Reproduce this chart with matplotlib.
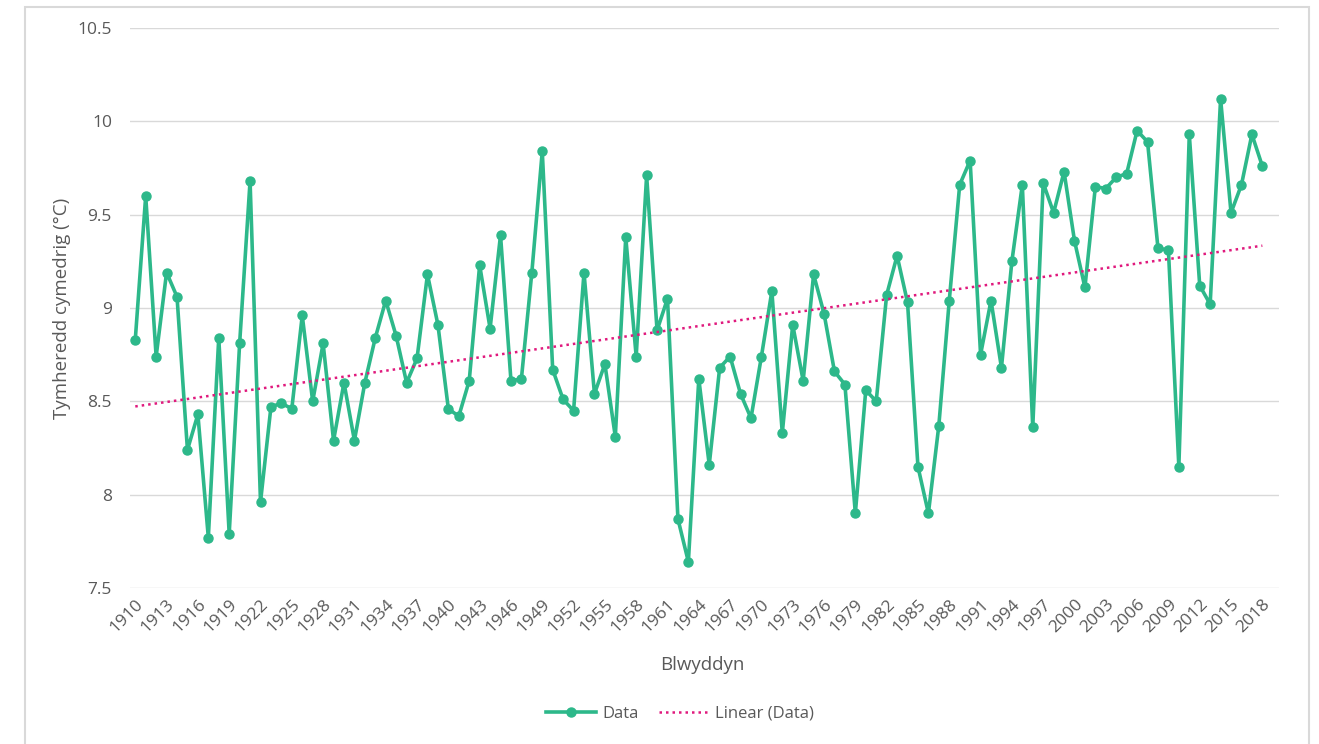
import numpy as np
import matplotlib
matplotlib.use('Agg')
import matplotlib.pyplot as plt
from matplotlib.patches import Rectangle

# Datos: temperatura media anual
years = list(range(1910, 2019))
temps = [
    8.83, 9.60, 8.74, 9.19, 9.06, 8.24, 8.43, 7.77, 8.84, 7.79,  # 1910-1919
    8.81, 9.68, 7.96, 8.47, 8.49, 8.46, 8.96, 8.50, 8.81, 8.29,  # 1920-1929
    8.60, 8.29, 8.60, 8.84, 9.04, 8.85, 8.60, 8.73, 9.18, 8.91,  # 1930-1939
    8.46, 8.42, 8.61, 9.23, 8.89, 9.39, 8.61, 8.62, 9.19, 9.84,  # 1940-1949
    8.67, 8.51, 8.45, 9.19, 8.54, 8.70, 8.31, 9.38, 8.74, 9.71,  # 1950-1959
    8.88, 9.05, 7.87, 7.64, 8.62, 8.16, 8.68, 8.74, 8.54, 8.41,  # 1960-1969
    8.74, 9.09, 8.33, 8.91, 8.61, 9.18, 8.97, 8.66, 8.59, 7.90,  # 1970-1979
    8.56, 8.50, 9.07, 9.28, 9.03, 8.15, 7.90, 8.37, 9.04, 9.66,  # 1980-1989
    9.79, 8.75, 9.04, 8.68, 9.25, 9.66, 8.36, 9.67, 9.51, 9.73,  # 1990-1999
    9.36, 9.11, 9.65, 9.64, 9.70, 9.72, 9.95, 9.89, 9.32, 9.31,  # 2000-2009
    8.15, 9.93, 9.12, 9.02, 10.12, 9.51, 9.66, 9.93, 9.76,       # 2010-2018
]
tick_years = list(range(1910, 2019, 3))
y_ticks = [7.5, 8, 8.5, 9, 9.5, 10, 10.5]
y_tick_labels = ['7.5', '8', '8.5', '9', '9.5', '10', '10.5']

green = '#2db88a'
pink = '#e0197d'
text_gray = '#595959'

plt.rcParams['font.family'] = ['Open Sans', 'DejaVu Sans']

fig = plt.figure(figsize=(13.19, 7.44), dpi=100)
ax = fig.add_axes([0.0986, 0.2097, 0.8711, 0.7527])

# Marco del gráfico
fig.patches.append(Rectangle((25 / 1319, -0.01), 1284 / 1319, 1 - 7 / 744 + 0.01,
                             transform=fig.transFigure, fill=False,
                             edgecolor='#d9d9d9', linewidth=1.5))

ax.plot(years, temps, color=green, linewidth=2.6, marker='o', markersize=6.5,
        label='Data', zorder=3)

# Línea de tendencia
coef = np.polyfit(years, temps, 1)
trend = np.polyval(coef, years)
ax.plot(years, trend, color=pink, linestyle=(0, (1, 1.6)), linewidth=1.8,
        label='Linear (Data)', zorder=4)

ax.set_xlim(1909.5, 2019.6)
ax.set_ylim(7.5, 10.5)
ax.set_yticks(y_ticks)
ax.set_yticklabels(y_tick_labels)
ax.set_xticks(tick_years)
ax.set_xticklabels([str(y) for y in tick_years], rotation=45, ha='right',
                   rotation_mode='anchor')

ax.grid(axis='y', color='#d9d9d9', linewidth=1)
ax.set_axisbelow(True)
for s in ax.spines.values():
    s.set_visible(False)
ax.tick_params(axis='both', length=0, labelsize=12.5, colors=text_gray)
ax.tick_params(axis='y', pad=13)
ax.tick_params(axis='x', pad=6)

fig.text(62 / 1319, 1 - 308 / 744, 'Tymheredd cymedrig (°C)', rotation=90,
         ha='center', va='center', fontsize=13.5, color=text_gray)
fig.text(702 / 1319, 1 - 665 / 744, 'Blwyddyn', ha='center', va='center',
         fontsize=13.5, color=text_gray)

leg = fig.legend(loc='center', bbox_to_anchor=(680 / 1319, 1 - 714 / 744),
                 ncol=2, frameon=False, fontsize=12, handlelength=3,
                 columnspacing=1.2, handletextpad=0.4)
for t in leg.get_texts():
    t.set_color(text_gray)

fig.savefig('out.png', dpi=100)
